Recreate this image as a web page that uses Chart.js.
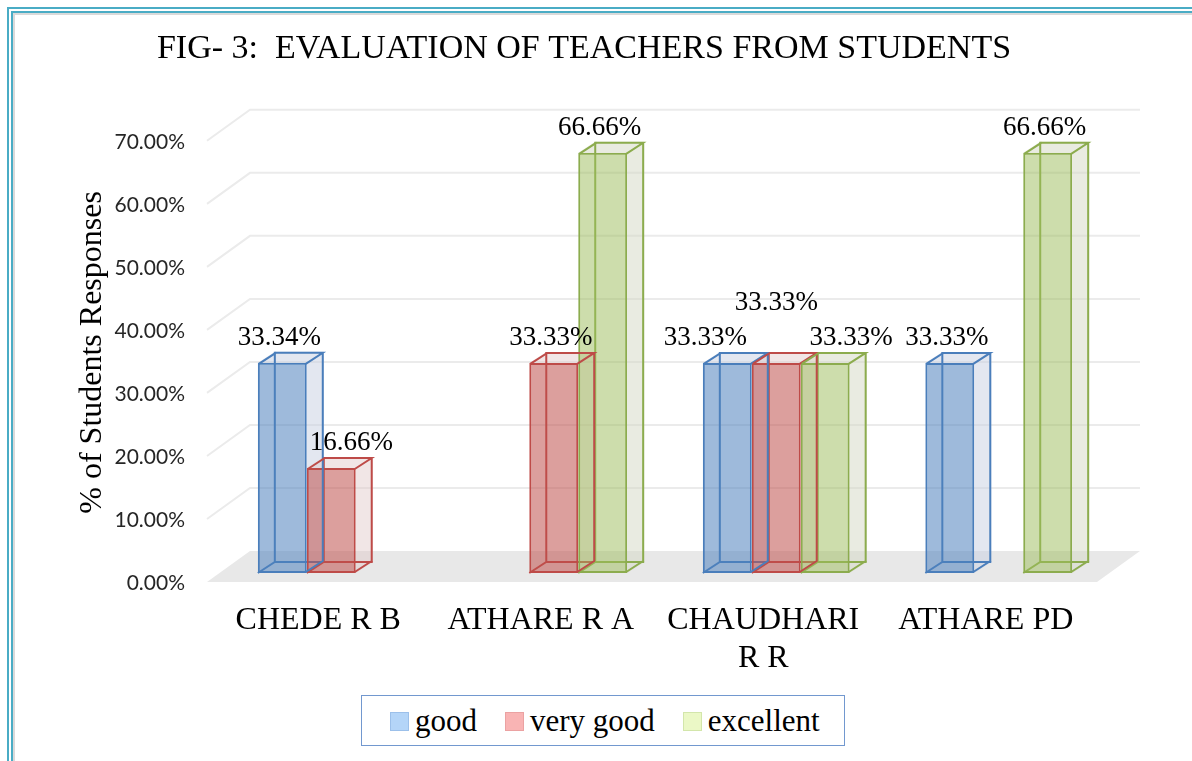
<!DOCTYPE html>
<html>
<head>
<meta charset="utf-8">
<script src="https://cdn.jsdelivr.net/npm/chart.js@4.4.1/dist/chart.umd.min.js"></script>
<style>
  html, body { margin: 0; padding: 0; background: #fff; overflow: hidden; }
  #frame {
    position: absolute; left: 7px; top: 7px; width: 1182px; height: 800px;
    border-top: 6px double #4aacc5; border-left: 6px double #4aacc5;
    border-right: 2px solid #b7d2dc;
  }
  #frame div { width: 100%; height: 100%; border-top: 2px solid #dadada; border-left: 2px solid #dadada; box-sizing: border-box; }
  #grafica { position: absolute; left: 0; top: 0; }
  #legend {
    position: absolute; left: 361px; top: 695px; width: 484px; height: 51px;
    box-sizing: border-box; border: 1px solid #7298cf; background: #fff;
    display: flex; align-items: center; padding-left: 28px; white-space: nowrap;
    font-family: "Liberation Serif", serif; font-size: 31px; color: #000;
  }
  #legend .item { display: flex; align-items: center; margin-right: 28px; flex: none; }
  #legend .box { width: 17px; height: 17px; margin-right: 6px; border: 1px solid; margin-top: 2px; }
</style>
</head>
<body>
<div id="frame"><div></div></div>
<canvas id="grafica" width="1192" height="761"></canvas>
<div id="legend"></div>
<script>
// datos
const profesores = ['CHEDE R B', 'ATHARE R A', ['CHAUDHARI', 'R R'], 'ATHARE PD'];
const series = ['good', 'very good', 'excellent'];
const good = [33.34, null, 33.33, 33.33];
const veryGood = [16.66, 33.33, 33.33, null];
const excellent = [null, 66.66, 33.33, 66.66];
const yMax = 70;
const yPaso = 10;

// colores
const frente = ['rgba(79,129,189,0.55)', 'rgba(192,80,77,0.55)', 'rgba(155,187,89,0.5)'];
const borde = ['#4a7ebb', '#be4b48', '#8cac4e'];
const lado = ['rgba(200,208,225,0.5)', 'rgba(225,200,200,0.45)', 'rgba(212,215,195,0.5)'];
const leyendaColor = ['#b4d5f8', '#f9b4b4', '#ebf8c6'];
const leyendaBorde = ['#9cc0ea', '#eba2a2', '#d3e6ab'];

// profundidad 3D
const DX = 17, DY = -11;   // fondo de la barra
const WX = 30, WY = -22;   // pared del fondo
const FX = -13, FY = 9;    // borde frontal del piso

// ajustes de etiquetas que Excel movio para no encimarse
const ajusteEtiqueta = { '1-0': [20, 0], '0-2': [-22, 0], '1-2': [0, -35], '2-2': [26, 0] };

const caja3d = {
  id: 'caja3d',
  beforeDatasetsDraw(chart) {
    const { ctx, chartArea: a, scales: { y } } = chart;
    const p0 = y.getPixelForValue(0);
    ctx.save();
    // piso
    ctx.fillStyle = '#e8e8e8';
    ctx.beginPath();
    ctx.moveTo(a.left + FX, p0 + FY);
    ctx.lineTo(a.right + FX, p0 + FY);
    ctx.lineTo(a.right + WX, p0 + WY);
    ctx.lineTo(a.left + WX, p0 + WY);
    ctx.closePath();
    ctx.fill();
    // lineas de la pared
    ctx.strokeStyle = '#ebebeb';
    ctx.lineWidth = 2;
    y.ticks.forEach(t => {
      if (t.value === 0) return;
      const py = y.getPixelForValue(t.value);
      ctx.beginPath();
      ctx.moveTo(a.left + FX, py + FY);
      ctx.lineTo(a.left + WX, py + WY);
      ctx.lineTo(a.right + WX, py + WY);
      ctx.stroke();
    });
    // caras laterales y aristas traseras
    chart.data.datasets.forEach((ds, di) => {
      chart.getDatasetMeta(di).data.forEach((bar, i) => {
        if (ds.data[i] == null) return;
        const { x, y: top, base, width } = bar.getProps(['x', 'y', 'base', 'width'], true);
        const l = x - width / 2, r = x + width / 2;
        ctx.fillStyle = lado[di];
        ctx.beginPath();
        ctx.moveTo(r, base);
        ctx.lineTo(r + DX, base + DY);
        ctx.lineTo(r + DX, top + DY);
        ctx.lineTo(l + DX, top + DY);
        ctx.lineTo(l, top);
        ctx.lineTo(r, top);
        ctx.closePath();
        ctx.fill();
        ctx.strokeStyle = borde[di];
        ctx.lineWidth = 2;
        ctx.beginPath();
        ctx.moveTo(l, base);
        ctx.lineTo(l + DX, base + DY);
        ctx.lineTo(r + DX, base + DY);
        ctx.moveTo(l + DX, base + DY);
        ctx.lineTo(l + DX, top + DY);
        ctx.stroke();
      });
    });
    ctx.restore();
  },
  afterDatasetsDraw(chart) {
    const { ctx } = chart;
    ctx.save();
    chart.data.datasets.forEach((ds, di) => {
      chart.getDatasetMeta(di).data.forEach((bar, i) => {
        const v = ds.data[i];
        if (v == null) return;
        const { x, y: top, base, width } = bar.getProps(['x', 'y', 'base', 'width'], true);
        const l = x - width / 2 + 1, r = x + width / 2 - 1;
        ctx.strokeStyle = borde[di];
        ctx.lineWidth = 2;
        ctx.beginPath();
        ctx.moveTo(l, top + 1);
        ctx.lineTo(l + DX, top + 1 + DY);
        ctx.lineTo(r + DX, top + 1 + DY);
        ctx.lineTo(r, top + 1);
        ctx.moveTo(r + DX, top + 1 + DY);
        ctx.lineTo(r + DX, base - 1 + DY);
        ctx.lineTo(r, base - 1);
        ctx.stroke();
        // etiqueta de valor
        const aj = ajusteEtiqueta[di + '-' + i] || [-3, 0];
        ctx.font = '27px "Liberation Serif"';
        ctx.fillStyle = '#000';
        ctx.textAlign = 'center';
        ctx.textBaseline = 'middle';
        ctx.fillText(v.toFixed(2) + '%', x + aj[0], top - 25 + aj[1]);
      });
    });
    ctx.restore();
  }
};

const datos = [good, veryGood, excellent];

new Chart(document.getElementById('grafica'), {
  type: 'bar',
  data: {
    labels: profesores,
    datasets: series.map((s, i) => ({
      label: s,
      data: datos[i],
      backgroundColor: frente[i],
      borderColor: borde[i],
      borderWidth: 2,
      borderSkipped: false,
      categoryPercentage: 0.66,
      barPercentage: 1.0
    }))
  },
  options: {
    responsive: false,
    animation: false,
    layout: { padding: { left: 0, right: 24, top: 0, bottom: 68 } },
    plugins: {
      legend: { display: false },
      tooltip: { enabled: false },
      title: {
        display: true,
        text: 'FIG- 3:  EVALUATION OF TEACHERS FROM STUDENTS',
        color: '#000',
        font: { family: 'Liberation Serif', size: 34, weight: 'normal' },
        padding: { top: 29, bottom: 62 }
      }
    },
    scales: {
      x: {
        grid: { display: false, drawTicks: false },
        border: { display: false },
        ticks: {
          color: '#000',
          font: { family: 'Liberation Serif', size: 32 },
          padding: 28,
          labelOffset: -13,
          maxRotation: 0,
          autoSkip: false
        },
        afterFit: s => { s.height = 120; }
      },
      y: {
        min: 0,
        max: yMax,
        grid: { display: false, drawTicks: false },
        border: { display: false },
        ticks: {
          stepSize: yPaso,
          color: '#262626',
          font: { family: 'Lato', size: 21 },
          padding: 35,
          labelOffset: 10,
          callback: v => v.toFixed(2) + '%'
        },
        title: {
          display: true,
          text: '% of Students Responses',
          color: '#000',
          font: { family: 'Liberation Serif', size: 32 },
          padding: { top: 73, bottom: 0 }
        },
        afterFit: s => { s.width = 220; }
      },
      y2: {
        type: 'linear',
        position: 'right',
        grid: { display: false, drawTicks: false },
        border: { display: false },
        ticks: { display: false },
        afterFit: s => { s.width = 58; }
      }
    }
  },
  plugins: [caja3d]
});

// leyenda en HTML
const leyenda = document.getElementById('legend');
series.forEach((s, i) => {
  const item = document.createElement('span');
  item.className = 'item';
  item.innerHTML = `<span class="box" style="background:${leyendaColor[i]};border-color:${leyendaBorde[i]}"></span>${s}`;
  leyenda.appendChild(item);
});
</script>
</body>
</html>
